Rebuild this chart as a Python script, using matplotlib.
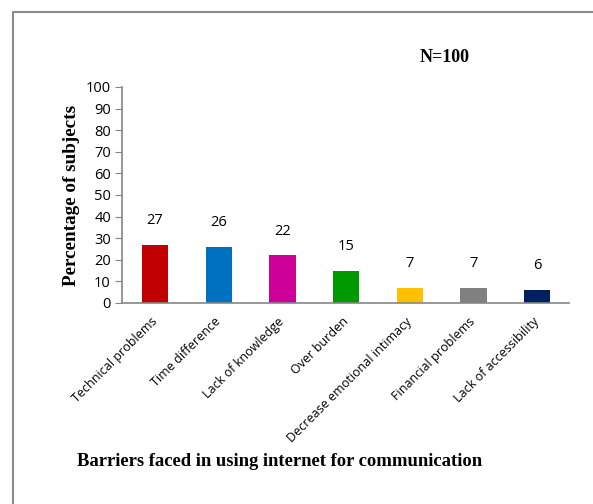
import matplotlib.pyplot as plt
from matplotlib.patches import Rectangle

barriers = ['Technical problems', 'Time difference', 'Lack of knowledge', 'Over burden',
            'Decrease emotional intimacy', 'Financial problems', 'Lack of accessibility']
percent = [27, 26, 22, 15, 7, 7, 6]
colors = ['#C00000', '#0070C0', '#CC0099', '#009900', '#FFC000', '#808080', '#002060']

fig = plt.figure(figsize=(5.93, 5.04), dpi=100)

# outer frame, open on the right and bottom
fig.patches.append(Rectangle((13 / 593, -0.1), 1.2, 1 - 12 / 504 + 0.1, transform=fig.transFigure,
                             fill=False, edgecolor='#8c8c8c', linewidth=1.5))

ax = fig.add_axes([122 / 593, 1 - 303 / 504, (569 - 122) / 593, (303 - 87) / 504])
x = range(len(barriers))
bars = ax.bar(x, percent, width=0.41, color=colors)

ax.set_ylim(0, 100)
ax.set_xlim(-0.52, 6.5)
ax.set_yticks(range(0, 101, 10))
ax.tick_params(axis='y', labelsize=10.5, length=5, color='#868686', pad=3)
ax.tick_params(axis='x', length=0, pad=12)
for lbl in ax.get_yticklabels():
    lbl.set_family('Open Sans')

ax.set_xticks(list(x))
ax.set_xticklabels(barriers, rotation=45, ha='right', va='center', rotation_mode='anchor',
                   fontsize=9, family='Open Sans')

for s in ['top', 'right']:
    ax.spines[s].set_visible(False)
for s in ['left', 'bottom']:
    ax.spines[s].set_color('#868686')
    ax.spines[s].set_linewidth(1.2)

for b, v in zip(bars, percent):
    ax.annotate(str(v), (b.get_x() + b.get_width() / 2, v), xytext=(0, 12),
                textcoords='offset points', ha='center', va='bottom',
                fontsize=10.5, family='Open Sans')

ax.set_ylabel('Percentage of subjects', family='Liberation Serif', fontweight='bold',
              fontsize=13.8, labelpad=4)

fig.text(445 / 593, 1 - 57 / 504, 'N=100', family='Liberation Serif', fontweight='bold',
         fontsize=13, ha='center', va='center')
fig.text(77 / 593, 1 - 461 / 504, 'Barriers faced in using internet for communication',
         family='Liberation Serif', fontweight='bold', fontsize=13.4, ha='left', va='center')

fig.savefig('out.png', dpi=100)
